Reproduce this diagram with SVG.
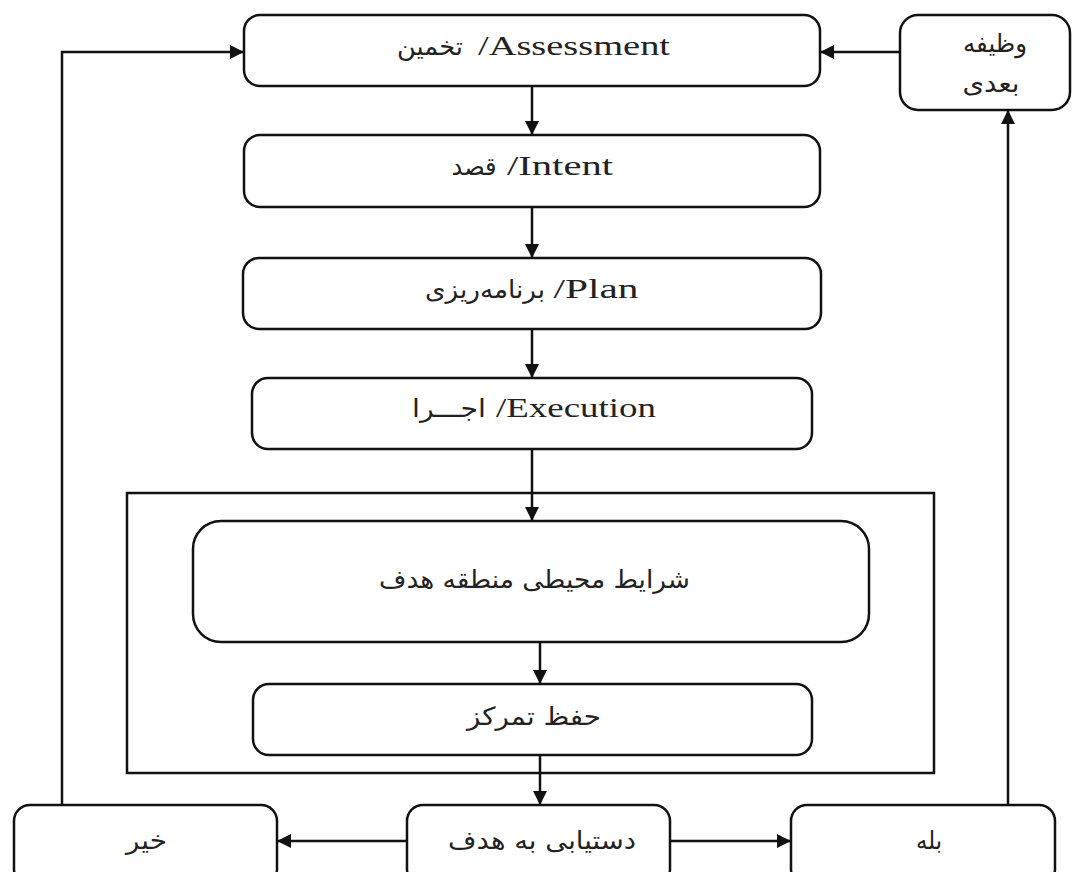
<svg xmlns="http://www.w3.org/2000/svg" width="1072" height="872" viewBox="0 0 1072 872">
<style>
.box{fill:#fff;stroke:#111;stroke-width:2.5}
.frame{fill:none;stroke:#111;stroke-width:2.5}
.en{font-family:"Liberation Serif","DejaVu Serif",serif;font-size:27px;fill:#222;text-anchor:middle}
.fa{font-family:"DejaVu Sans","Liberation Serif",sans-serif;font-size:25px;fill:#222;text-anchor:middle}
.con{fill:none;stroke:#111;stroke-width:2.5}
</style>
<defs>
<marker id="ah" markerUnits="userSpaceOnUse" markerWidth="14" markerHeight="14" refX="14" refY="7" orient="auto">
<path d="M0,0 L14,7 L0,14 z" fill="#111"/>
</marker>
</defs>
<rect width="1072" height="872" fill="#fff"/>
<rect class="frame" x="127" y="493" width="807" height="280"/>
<g id="assessment"><rect class="box" x="244" y="15" width="576" height="71" rx="16"/><text class="fa" x="430" y="55" textLength="66" lengthAdjust="spacingAndGlyphs">تخمین</text><text class="en" x="574" y="55" textLength="192" lengthAdjust="spacingAndGlyphs">/Assessment</text></g>
<g id="next-task"><rect class="box" x="900" y="15" width="170" height="95" rx="18"/><text class="fa" x="995" y="52" textLength="64" lengthAdjust="spacingAndGlyphs">وظیفه</text><text class="fa" x="991" y="92" textLength="57" lengthAdjust="spacingAndGlyphs">بعدی</text></g>
<g id="intent"><rect class="box" x="244" y="135" width="576" height="72" rx="16"/><text class="fa" x="474" y="175" textLength="45" lengthAdjust="spacingAndGlyphs">قصد</text><text class="en" x="560" y="175" textLength="106" lengthAdjust="spacingAndGlyphs">/Intent</text></g>
<g id="plan"><rect class="box" x="243" y="258" width="578" height="71" rx="16"/><text class="fa" x="485" y="298" textLength="120" lengthAdjust="spacingAndGlyphs">برنامه‌ریزی</text><text class="en" x="596" y="298" textLength="85" lengthAdjust="spacingAndGlyphs">/Plan</text></g>
<g id="execution"><rect class="box" x="252" y="378" width="560" height="71" rx="16"/><text class="fa" x="449" y="417" textLength="74" lengthAdjust="spacingAndGlyphs">اجـــرا</text><text class="en" x="576" y="417" textLength="160" lengthAdjust="spacingAndGlyphs">/Execution</text></g>
<g id="environment"><rect class="box" x="193" y="521" width="676" height="121" rx="28"/><text class="fa" x="534.5" y="588" textLength="311" lengthAdjust="spacingAndGlyphs">شرایط محیطی منطقه هدف</text></g>
<g id="focus"><rect class="box" x="253" y="684" width="559" height="71" rx="16"/><text class="fa" x="534" y="725" textLength="134" lengthAdjust="spacingAndGlyphs">حفظ تمرکز</text></g>
<g id="no"><rect class="box" x="14" y="805" width="263" height="80" rx="16"/><text class="fa" x="146.5" y="849" textLength="41" lengthAdjust="spacingAndGlyphs">خیر</text></g>
<g id="goal"><rect class="box" x="407" y="805" width="263" height="80" rx="16"/><text class="fa" x="542" y="849" textLength="188" lengthAdjust="spacingAndGlyphs">دستیابی به هدف</text></g>
<g id="yes"><rect class="box" x="791" y="805" width="264" height="80" rx="16"/><text class="fa" x="929" y="849" textLength="26" lengthAdjust="spacingAndGlyphs">بله</text></g>
<g id="connectors">
<path class="con" d="M532 86 V135" marker-end="url(#ah)"/>
<path class="con" d="M532 207 V258" marker-end="url(#ah)"/>
<path class="con" d="M532 329 V378" marker-end="url(#ah)"/>
<path class="con" d="M532 449 V521" marker-end="url(#ah)"/>
<path class="con" d="M540 642 V684" marker-end="url(#ah)"/>
<path class="con" d="M540 755 V805" marker-end="url(#ah)"/>
<path class="con" d="M407 841 H277" marker-end="url(#ah)"/>
<path class="con" d="M670 841 H791" marker-end="url(#ah)"/>
<path class="con" d="M62 805 V52 H244" marker-end="url(#ah)"/>
<path class="con" d="M1008 805 V110" marker-end="url(#ah)"/>
<path class="con" d="M900 52 H820" marker-end="url(#ah)"/>
</g>
</svg>
